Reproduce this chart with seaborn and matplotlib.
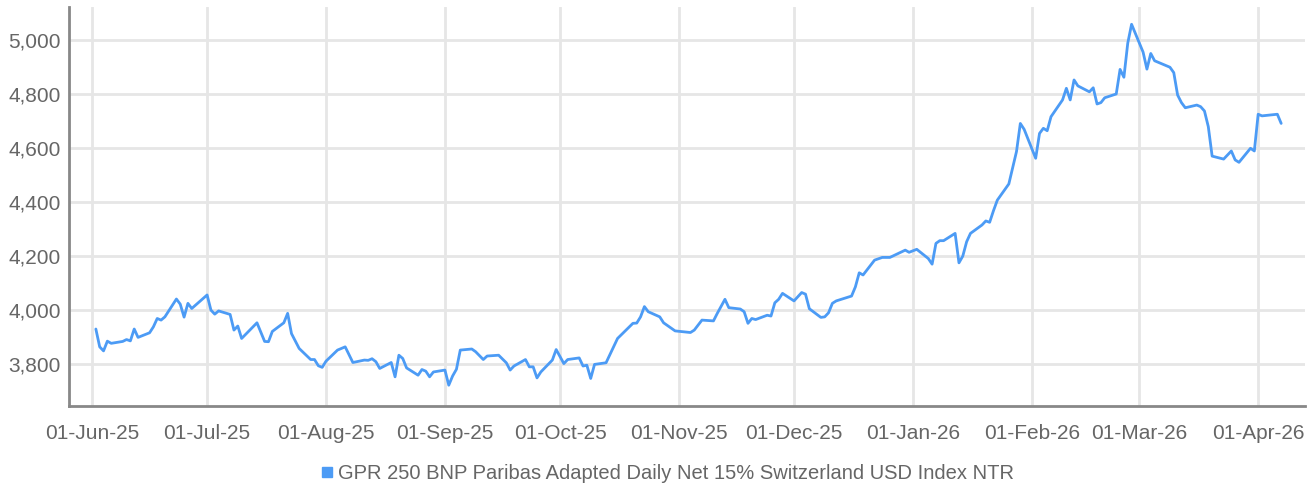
import matplotlib
matplotlib.use("Agg")
import matplotlib.pyplot as plt
import matplotlib.dates as mdates
import matplotlib.ticker as mticker
from matplotlib.lines import Line2D
import seaborn as sns
import pandas as pd

series_name = "GPR 250 BNP Paribas Adapted Daily Net 15% Switzerland USD Index NTR"

dates = [
    "2025-06-02", "2025-06-03", "2025-06-04", "2025-06-05", "2025-06-06", "2025-06-09", "2025-06-10",
    "2025-06-11", "2025-06-12", "2025-06-13", "2025-06-16", "2025-06-17", "2025-06-18", "2025-06-19",
    "2025-06-20", "2025-06-23", "2025-06-24", "2025-06-25", "2025-06-26", "2025-06-27", "2025-07-01",
    "2025-07-02", "2025-07-03", "2025-07-04", "2025-07-07", "2025-07-08", "2025-07-09", "2025-07-10",
    "2025-07-14", "2025-07-16", "2025-07-17", "2025-07-18", "2025-07-21", "2025-07-22", "2025-07-23",
    "2025-07-25", "2025-07-28", "2025-07-29", "2025-07-30", "2025-07-31", "2025-08-01", "2025-08-04",
    "2025-08-06", "2025-08-08", "2025-08-11", "2025-08-12", "2025-08-13", "2025-08-14", "2025-08-15",
    "2025-08-18", "2025-08-19", "2025-08-20", "2025-08-21", "2025-08-22", "2025-08-25", "2025-08-26",
    "2025-08-27", "2025-08-28", "2025-08-29", "2025-09-01", "2025-09-02", "2025-09-03", "2025-09-04",
    "2025-09-05", "2025-09-08", "2025-09-09", "2025-09-11", "2025-09-12", "2025-09-15", "2025-09-17",
    "2025-09-18", "2025-09-19", "2025-09-22", "2025-09-23", "2025-09-24", "2025-09-25", "2025-09-26",
    "2025-09-29", "2025-09-30", "2025-10-02", "2025-10-03", "2025-10-06", "2025-10-07", "2025-10-08",
    "2025-10-09", "2025-10-10", "2025-10-13", "2025-10-16", "2025-10-20", "2025-10-21", "2025-10-22",
    "2025-10-23", "2025-10-24", "2025-10-27", "2025-10-28", "2025-10-31", "2025-11-04", "2025-11-05",
    "2025-11-07", "2025-11-10", "2025-11-11", "2025-11-13", "2025-11-14", "2025-11-17", "2025-11-18",
    "2025-11-19", "2025-11-20", "2025-11-21", "2025-11-24", "2025-11-25", "2025-11-26", "2025-11-27",
    "2025-11-28", "2025-12-01", "2025-12-03", "2025-12-04", "2025-12-05", "2025-12-08", "2025-12-09",
    "2025-12-10", "2025-12-11", "2025-12-12", "2025-12-16", "2025-12-17", "2025-12-18", "2025-12-19",
    "2025-12-22", "2025-12-24", "2025-12-26", "2025-12-30", "2025-12-31", "2026-01-02", "2026-01-05",
    "2026-01-06", "2026-01-07", "2026-01-08", "2026-01-09", "2026-01-12", "2026-01-13", "2026-01-14",
    "2026-01-15", "2026-01-16", "2026-01-19", "2026-01-20", "2026-01-21", "2026-01-22", "2026-01-23",
    "2026-01-26", "2026-01-28", "2026-01-29", "2026-01-30", "2026-02-02", "2026-02-03", "2026-02-04",
    "2026-02-05", "2026-02-06", "2026-02-09", "2026-02-10", "2026-02-11", "2026-02-12", "2026-02-13",
    "2026-02-16", "2026-02-17", "2026-02-18", "2026-02-19", "2026-02-20", "2026-02-23", "2026-02-24",
    "2026-02-25", "2026-02-26", "2026-02-27", "2026-03-02", "2026-03-03", "2026-03-04", "2026-03-05",
    "2026-03-09", "2026-03-10", "2026-03-11", "2026-03-12", "2026-03-13", "2026-03-16", "2026-03-17",
    "2026-03-18", "2026-03-19", "2026-03-20", "2026-03-23", "2026-03-25", "2026-03-26", "2026-03-27",
    "2026-03-30", "2026-03-31", "2026-04-01", "2026-04-02", "2026-04-06", "2026-04-07",
]

values = [
    3930, 3864, 3849, 3885, 3877, 3884, 3891,
    3886, 3930, 3899, 3916, 3938, 3969, 3963,
    3975, 4041, 4022, 3974, 4025, 4006, 4056,
    4000, 3985, 3997, 3984, 3926, 3941, 3895,
    3953, 3884, 3883, 3921, 3953, 3988, 3913,
    3858, 3817, 3817, 3794, 3788, 3811, 3852,
    3864, 3806, 3815, 3814, 3820, 3809, 3784,
    3806, 3753, 3833, 3821, 3786, 3759, 3780,
    3774, 3753, 3771, 3778, 3722, 3756, 3781,
    3852, 3856, 3846, 3817, 3830, 3833, 3805,
    3778, 3793, 3817, 3790, 3790, 3749, 3771,
    3815, 3854, 3802, 3817, 3823, 3793, 3796,
    3747, 3799, 3805, 3895, 3951, 3952, 3975,
    4013, 3994, 3975, 3953, 3923, 3917, 3926,
    3963, 3960, 3988, 4040, 4009, 4004, 3994,
    3951, 3969, 3965, 3981, 3978, 4027, 4040,
    4062, 4034, 4065, 4059, 4005, 3973, 3975,
    3990, 4025, 4034, 4052, 4086, 4138, 4130,
    4185, 4195, 4195, 4222, 4214, 4225, 4191,
    4170, 4247, 4257, 4257, 4284, 4175, 4200,
    4253, 4284, 4315, 4330, 4325, 4368, 4407,
    4467, 4587, 4691, 4669, 4562, 4654, 4673,
    4664, 4716, 4778, 4821, 4778, 4852, 4830,
    4808, 4823, 4763, 4768, 4786, 4800, 4891,
    4862, 4988, 5058, 4955, 4892, 4950, 4923,
    4899, 4879, 4796, 4768, 4749, 4759, 4753,
    4737, 4679, 4570, 4559, 4589, 4556, 4547,
    4599, 4589, 4725, 4719, 4725, 4691,
]

y_ticks = [3800, 4000, 4200, 4400, 4600, 4800, 5000]
x_tick_dates = ["2025-06-01", "2025-07-01", "2025-08-01", "2025-09-01", "2025-10-01", "2025-11-01",
                "2025-12-01", "2026-01-01", "2026-02-01", "2026-03-01", "2026-04-01"]

df = pd.DataFrame({"date": pd.to_datetime(dates), "value": values})

sns.set_style("white")
plt.rcParams['font.family'] = ['Liberation Sans', 'DejaVu Sans']

line_color = "#4C9BF5"
grid_color = "#E6E6E6"
text_color = "#666666"

fig = plt.figure(figsize=(13.14, 4.91), dpi=100)
ax = fig.add_axes([69 / 1314, 85 / 491, 1236 / 1314, 399 / 491])

sns.lineplot(data=df, x="date", y="value", ax=ax, color=line_color, linewidth=2.0, legend=False)

ax.set_xlim(pd.Timestamp("2025-05-26"), pd.Timestamp("2026-04-13 05:00"))
ax.set_ylim(3645, 5122)

ax.set_xticks(pd.to_datetime(x_tick_dates))
ax.xaxis.set_major_formatter(mdates.DateFormatter("%d-%b-%y"))
ax.set_yticks(y_ticks)
ax.yaxis.set_major_formatter(mticker.FuncFormatter(lambda v, p: f"{int(v):,}"))

ax.grid(True, color=grid_color, linewidth=2.0)
ax.set_axisbelow(True)
for s in ["top", "right"]:
    ax.spines[s].set_visible(False)
for s in ["left", "bottom"]:
    ax.spines[s].set_color("#888888")
    ax.spines[s].set_linewidth(2.0)

ax.tick_params(axis="x", length=0, pad=13, labelsize=15, labelcolor=text_color)
ax.tick_params(axis="y", length=0, pad=6, labelsize=15, labelcolor=text_color)
ax.set_xlabel("")
ax.set_ylabel("")

handle = Line2D([], [], linestyle="none", marker="s", markersize=7, color=line_color)
fig.legend([handle], [series_name], loc="center", bbox_to_anchor=(0.508, 0.035),
           frameon=False, fontsize=14.5, labelcolor=text_color, handlelength=0.6,
           handletextpad=0.2, borderaxespad=0)

fig.savefig("out.png", dpi=100)
